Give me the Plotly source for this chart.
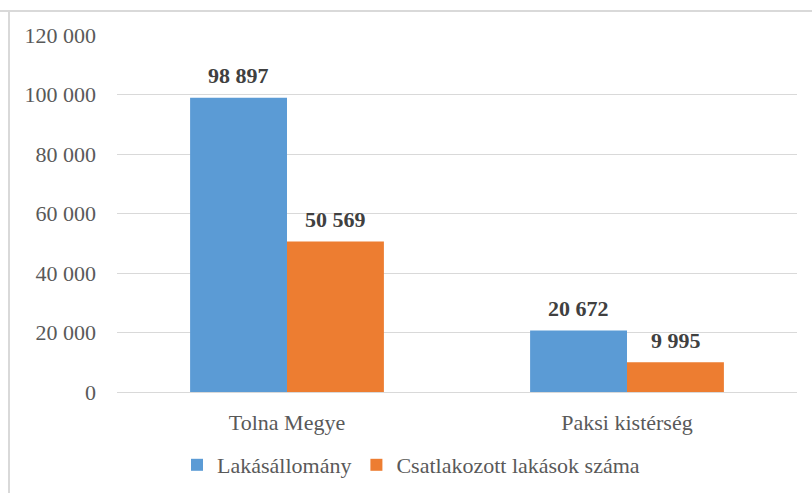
import plotly.graph_objects as go

categories = ["Tolna Megye", "Paksi kistérség"]
lakasallomany = [98897, 20672]
csatlakozott = [50569, 9995]
series_names = ["Lakásállomány", "Csatlakozott lakások száma"]
tick_vals = [0, 20000, 40000, 60000, 80000, 100000, 120000]

blue = "#5B9BD5"
orange = "#ED7D31"
font_family = "Liberation Serif, Times New Roman, serif"

fig = go.Figure()
fig.add_trace(go.Bar(x=categories, y=lakasallomany, name=series_names[0],
                     marker=dict(color=blue, line=dict(width=0))))
fig.add_trace(go.Bar(x=categories, y=csatlakozott, name=series_names[1],
                     marker=dict(color=orange, line=dict(width=0))))


def fmt(v):
    return f"{v:,}".replace(",", " ")


for vals, shift in ((lakasallomany, -48.5), (csatlakozott, 48.5)):
    for c, v in zip(categories, vals):
        fig.add_annotation(x=c, y=v, xref="x", yref="y", text=f"<b>{fmt(v)}</b>",
                           showarrow=False, xshift=shift, yshift=22, yanchor="middle",
                           font=dict(family=font_family, size=22, color="#404040"))

fig.update_layout(
    width=812, height=493,
    margin=dict(l=117, r=15, t=35, b=101),
    paper_bgcolor="white", plot_bgcolor="white",
    barmode="group", bargap=0.43, bargroupgap=0,
    separators=". ",
    font=dict(family=font_family, size=22, color="#595959"),
    showlegend=True,
    legend=dict(orientation="h", xref="container", yref="container",
                x=177/812, xanchor="left", y=28/493, yanchor="middle",
                font=dict(family=font_family, size=22, color="#595959"),
                itemwidth=30, traceorder="normal"),
    xaxis=dict(showgrid=False, showline=True, linecolor="#D9D9D9", linewidth=1,
               ticks="", ticklabelstandoff=11, automargin=False,
               tickfont=dict(family=font_family, size=22, color="#595959")),
    yaxis=dict(range=[0, 120000], tickvals=tick_vals, tickformat=",d",
               showgrid=True, gridcolor="#D9D9D9", gridwidth=1, automargin=False,
               zeroline=False, showline=False, ticks="", ticklabelstandoff=20,
               tickfont=dict(family=font_family, size=22, color="#595959")),
    shapes=[
        dict(type="line", xref="paper", yref="paper", x0=-117/680, x1=1.1,
             y0=1 + 24/357, y1=1 + 24/357, line=dict(color="#D9D9D9", width=2)),
        dict(type="line", xref="paper", yref="paper", x0=-108/680, x1=-108/680,
             y0=1 + 24/357, y1=-0.4, line=dict(color="#D9D9D9", width=2)),
    ],
)

fig.write_html("out.html", config={"displayModeBar": False},
               post_script="document.body.style.margin='0';document.body.style.overflow='hidden';")
